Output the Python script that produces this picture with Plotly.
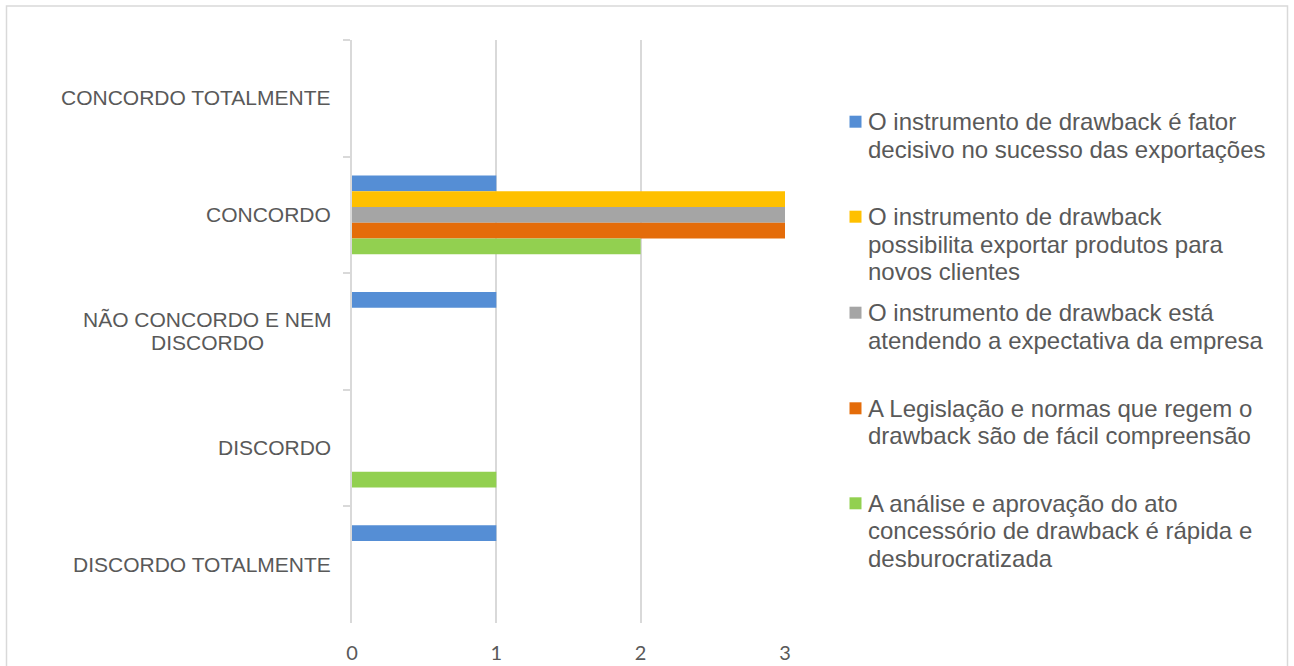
import plotly.graph_objects as go

# Response categories (top to bottom) and one list of answer counts per statement
categories = [
    "CONCORDO TOTALMENTE",
    "CONCORDO",
    "NÃO CONCORDO E NEM DISCORDO",
    "DISCORDO",
    "DISCORDO TOTALMENTE",
]
category_lines = [
    ["CONCORDO TOTALMENTE"],
    ["CONCORDO"],
    ["NÃO CONCORDO E NEM", "DISCORDO"],
    ["DISCORDO"],
    ["DISCORDO TOTALMENTE"],
]

fator_decisivo = [0, 1, 1, 0, 1]
novos_clientes = [0, 3, 0, 0, 0]
expectativa = [0, 3, 0, 0, 0]
legislacao = [0, 3, 0, 0, 0]
analise_aprovacao = [0, 2, 0, 1, 0]

series_names = [
    ["O instrumento de drawback é fator", "decisivo no sucesso das exportações"],
    ["O instrumento de drawback", "possibilita exportar produtos para", "novos clientes"],
    ["O instrumento de drawback está", "atendendo a expectativa da empresa"],
    ["A Legislação e normas que regem o", "drawback são de fácil compreensão"],
    ["A análise e aprovação do ato", "concessório de drawback é rápida e", "desburocratizada"],
]
series_values = [fator_decisivo, novos_clientes, expectativa, legislacao, analise_aprovacao]
colors = ["#558ED5", "#FFC000", "#A5A5A5", "#E46C0A", "#92D050"]

x_ticks = [0, 1, 2, 3]

W, H = 1294, 666
ML, MR, MT, MB = 352, 509, 40, 43
PW, PH = W - ML - MR, H - MT - MB


def px(x):
    return (x - ML) / PW


def py(y):
    return (H - MB - y) / PH


TEXT = "#595959"
GRID = "#D9D9D9"

fig = go.Figure()
for name, vals, col in zip(series_names, series_values, colors):
    fig.add_trace(go.Bar(
        y=categories, x=vals, orientation="h",
        name=" ".join(name), marker=dict(color=col, line=dict(width=0)),
        showlegend=False,
    ))

annotations = []
# category labels on the left, each line placed separately
for cat, lines in zip(categories, category_lines):
    n = len(lines)
    for i, ln in enumerate(lines):
        shift = (n - 1) / 2 * 23.5 - i * 23.5 + 0.7
        annotations.append(dict(
            x=px(333) if n == 1 else px(207.5), xref="paper",
            xanchor="right" if n == 1 else "center",
            y=cat, yref="y", yanchor="middle", yshift=shift,
            text=ln, showarrow=False,
            font=dict(family="Liberation Sans", size=21, color=TEXT),
        ))

# legend drawn as coloured squares with wrapped text
legend_line_y = [
    [121.7, 149.3],
    [216.7, 244.2, 271.7],
    [312.7, 340.0],
    [408.3, 435.7],
    [503.3, 530.8, 558.3],
]
shapes = []
for name, col, ys in zip(series_names, colors, legend_line_y):
    y0 = ys[0]
    shapes.append(dict(
        type="rect", xref="paper", yref="paper",
        x0=px(849.5), x1=px(861.5), y0=py(y0 + 6), y1=py(y0 - 6),
        fillcolor=col, line=dict(width=0),
    ))
    for ln, yy in zip(name, ys):
        annotations.append(dict(
            x=px(865.5), xref="paper", xanchor="left",
            y=py(yy), yref="paper", yanchor="middle",
            text=ln, showarrow=False,
            font=dict(family="Liberation Sans", size=24, color=TEXT),
        ))

# chart frame
shapes.append(dict(
    type="rect", xref="paper", yref="paper",
    x0=px(6.5), x1=px(1287.5), y0=py(690), y1=py(6),
    line=dict(color=GRID, width=1.5), fillcolor="rgba(0,0,0,0)", layer="below",
))

fig.update_layout(
    width=W, height=H,
    margin=dict(l=ML, r=MR, t=MT, b=MB, pad=0, autoexpand=False),
    paper_bgcolor="white", plot_bgcolor="white",
    barmode="group", bargap=0.324, bargroupgap=0,
    annotations=annotations, shapes=shapes,
    xaxis=dict(
        range=[0, 3], tickvals=x_ticks, ticktext=[str(v) for v in x_ticks],
        showgrid=True, gridcolor=GRID, gridwidth=1.5,
        zeroline=False, showline=False, automargin=False,
        ticks="outside", ticklen=12, tickcolor="rgba(0,0,0,0)",
        tickfont=dict(family="Lato", size=20, color=TEXT),
        fixedrange=True,
    ),
    yaxis=dict(
        type="category", categoryorder="array", categoryarray=categories,
        range=[4.5, -0.5], automargin=False,
        showticklabels=False, showgrid=False, zeroline=False,
        showline=True, linecolor=GRID, linewidth=1.5,
        ticks="outside", ticklen=7, tickcolor=GRID, tickwidth=1.5,
        tickson="boundaries",
        fixedrange=True,
    ),
)

fig.write_html("out.html")
